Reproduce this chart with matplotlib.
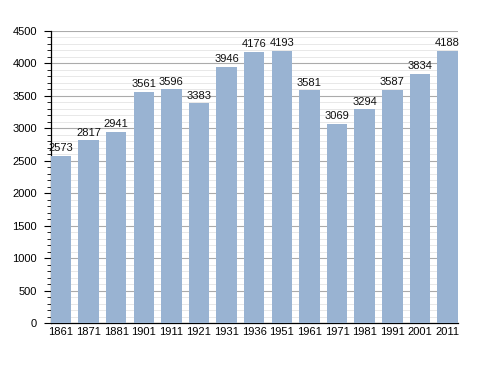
import matplotlib
matplotlib.use("Agg")
import matplotlib.pyplot as plt
from matplotlib.ticker import MultipleLocator

years = ["1861", "1871", "1881", "1901", "1911", "1921", "1931", "1936",
         "1951", "1961", "1971", "1981", "1991", "2001", "2011"]
population = [2573, 2817, 2941, 3561, 3596, 3383, 3946, 4176,
              4193, 3581, 3069, 3294, 3587, 3834, 4188]

plt.rcParams['font.family'] = ['Liberation Sans', 'DejaVu Sans']

fig = plt.figure(figsize=(4.88, 3.73), dpi=100)
ax = fig.add_axes([0.1039, 0.1332, 0.938 - 0.1039, 0.9177 - 0.1332])

bw = 0.74
x = list(range(len(years)))
bars = ax.bar(x, population, width=bw, color="#99b3d2", zorder=3)
for xi, v in zip(x, population):
    ax.text(xi, v + 40, str(v), ha="center", va="bottom", fontsize=8,
            color="#111111", zorder=4)

ax.set_xlim(-bw / 2, len(years) - 1 + bw / 2)
ax.set_ylim(0, 4500)
ax.set_xticks(x)
ax.set_xticklabels(years, fontsize=8)
ax.yaxis.set_major_locator(MultipleLocator(500))
ax.yaxis.set_minor_locator(MultipleLocator(100))
ax.tick_params(axis="y", which="major", length=5, width=0.8, pad=5,
               labelsize=8, color="#000000")
ax.tick_params(axis="y", which="minor", length=3, width=0.6, color="#000000")
ax.tick_params(axis="x", length=0, pad=3)

ax.grid(axis="y", which="major", color="#ababab", linewidth=0.8, zorder=0)
ax.grid(axis="y", which="minor", color="#e4e4e4", linewidth=0.6, zorder=0)
ax.set_axisbelow(True)

for s in ["top", "right"]:
    ax.spines[s].set_visible(False)
ax.spines["left"].set_linewidth(0.9)
ax.spines["bottom"].set_linewidth(0.9)

fig.savefig("out.png", dpi=100)
